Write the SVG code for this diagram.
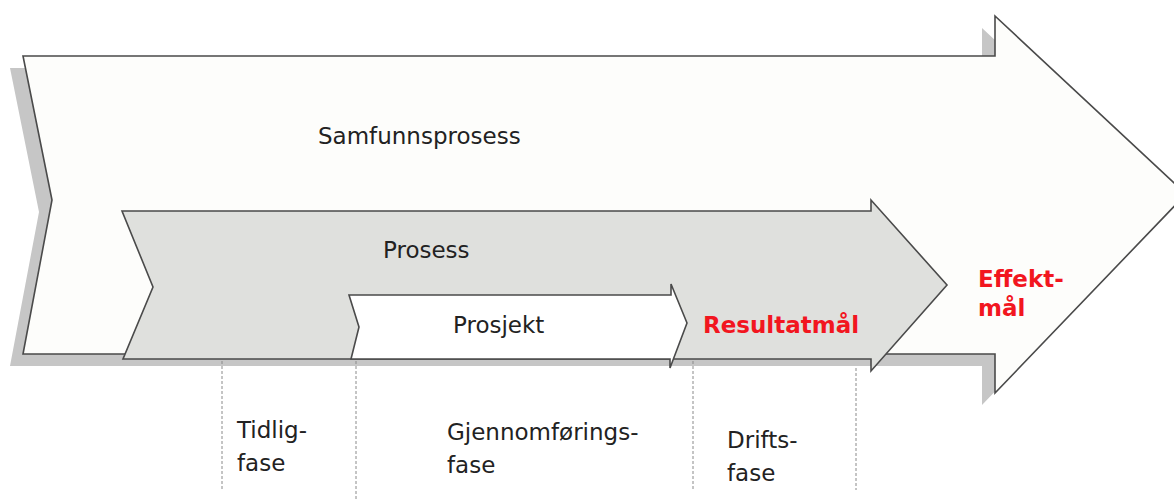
<svg xmlns="http://www.w3.org/2000/svg" width="1174" height="499" viewBox="0 0 1174 499">
  <style>
    .lbl { font-family: "DejaVu Sans", Verdana, sans-serif; font-size: 23px; fill: #222222; }
    .goal { font-family: "DejaVu Sans", Verdana, sans-serif; font-size: 23px; font-weight: bold; fill: #f2161f; }
    .outline { stroke: #4a4a4a; stroke-width: 1.6; stroke-linejoin: miter; }
    .divider { stroke: #8a8a8a; stroke-width: 1; stroke-dasharray: 3 2; fill: none; }
  </style>
  <rect width="1174" height="499" fill="#ffffff"/>

  <!-- Outer process: society level -->
  <g id="samfunnsprosess">
    <polygon points="10,68 982,68 982,28 1173,206 982,405 982,366 10,366 39,212" fill="#c6c6c6"/>
    <polygon class="outline" points="23,56 995,56 995,16 1186,194 995,393 995,354 23,354 52,200" fill="#fdfdfb"/>
    <text class="lbl" x="318" y="144">Samfunnsprosess</text>
  </g>

  <!-- Middle process -->
  <g id="prosess">
    <polygon class="outline" points="122,211 871,211 871,200 947,285 871,371 871,359 123,359 153,287" fill="#dfe0dd"/>
    <text class="lbl" x="383" y="258">Prosess</text>
  </g>

  <!-- Inner project -->
  <g id="prosjekt">
    <polygon class="outline" points="349,295 671,295 671,284 687,323 670,368 670,359 351,359 359,327" fill="#ffffff"/>
    <text class="lbl" x="453" y="333">Prosjekt</text>
  </g>

  <g id="resultatmaal">
    <text class="goal" x="703" y="333">Resultatmål</text>
  </g>

  <g id="effektmaal">
    <text class="goal" x="978" y="287">Effekt-</text>
    <text class="goal" x="978" y="316">mål</text>
  </g>

  <!-- Phase boundaries -->
  <g id="connectors">
    <line class="divider" x1="222" y1="361" x2="222" y2="490"/>
    <line class="divider" x1="356" y1="361" x2="356" y2="499"/>
    <line class="divider" x1="693" y1="361" x2="693" y2="490"/>
    <line class="divider" x1="856" y1="368" x2="856" y2="490"/>
  </g>

  <g id="tidligfase">
    <text class="lbl" x="237" y="438">Tidlig-</text>
    <text class="lbl" x="237" y="471">fase</text>
  </g>

  <g id="gjennomforingsfase">
    <text class="lbl" x="447" y="440">Gjennomførings-</text>
    <text class="lbl" x="447" y="473">fase</text>
  </g>

  <g id="driftsfase">
    <text class="lbl" x="727" y="448">Drifts-</text>
    <text class="lbl" x="727" y="481">fase</text>
  </g>
</svg>
